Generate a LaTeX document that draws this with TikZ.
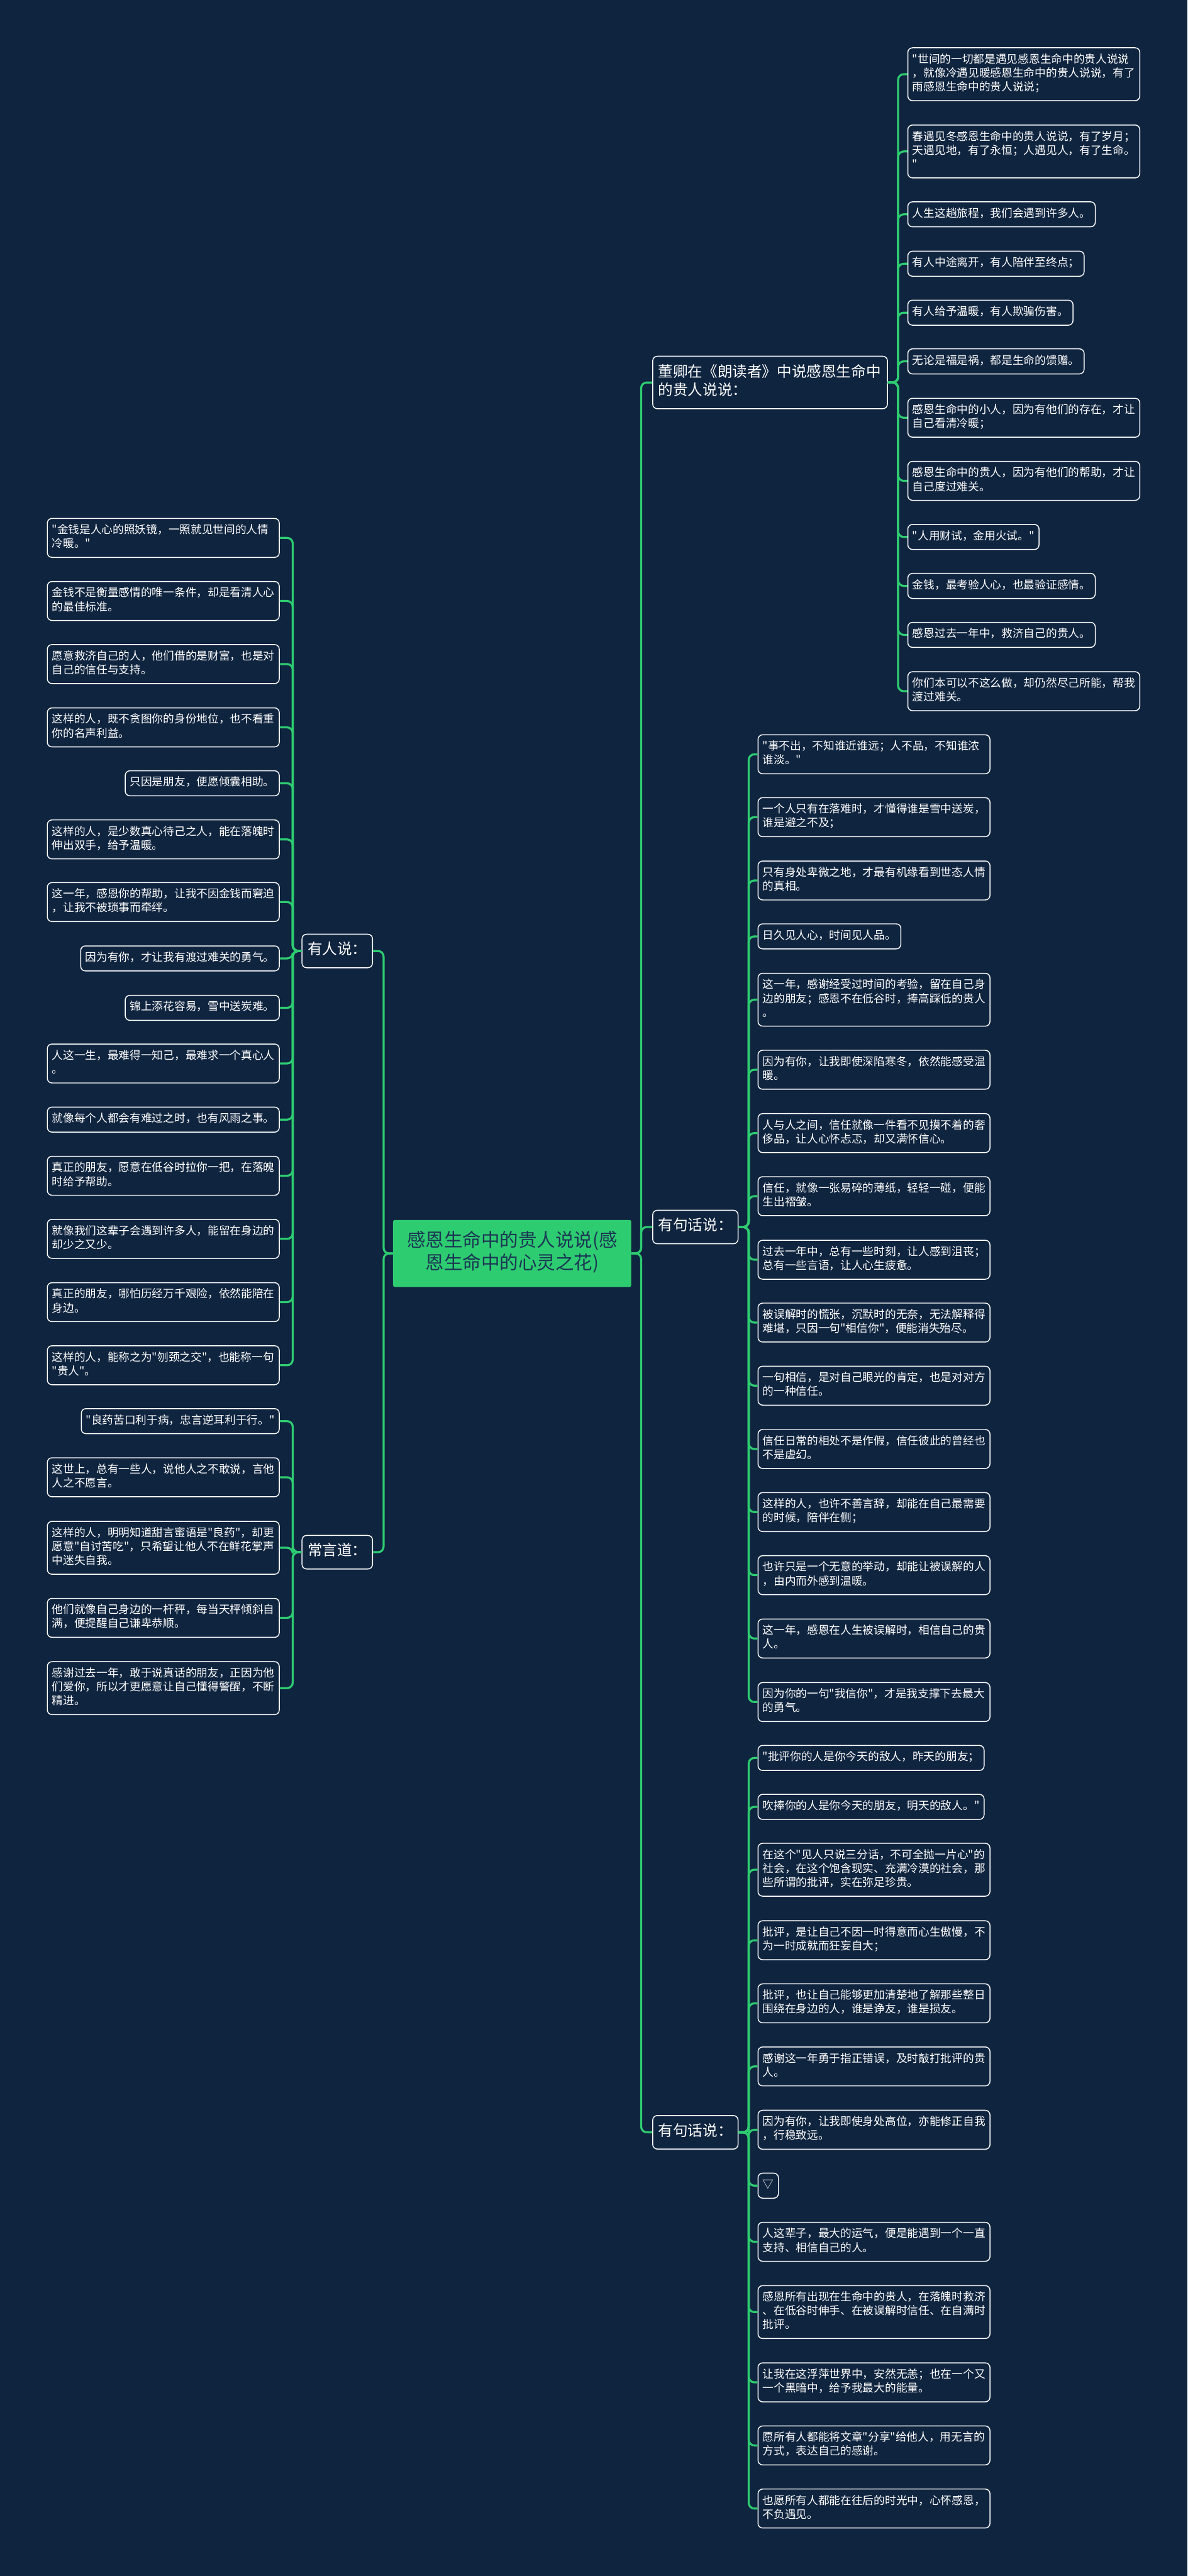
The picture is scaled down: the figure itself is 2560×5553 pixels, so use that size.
\documentclass[tikz,border=0pt]{standalone}
\usepackage{xcolor}
\usepackage{fontspec}
\setmainfont{Noto Sans CJK SC}[Ligatures=TeXOff]
\usetikzlibrary{positioning}
\definecolor{mindbg}{HTML}{0F243F}
\definecolor{mindgreen}{HTML}{2ECC71}
\definecolor{mindnavy}{HTML}{1A3553}

\begin{document}
\begin{tikzpicture}[x=0.5pt, y=-0.5pt,
  link/.style={draw=mindgreen, line width=2.2pt, rounded corners=6pt},
  leaf/.style={draw=white, line width=1pt, fill=mindbg, rounded corners=5pt, text=white,
    font=\fontsize{12}{15}\selectfont, inner xsep=5pt, inner ysep=6pt, align=left,
    execute at begin node=\strut, execute at end node=\strut},
  leafw/.style={leaf, text width=240pt},
  branch/.style={draw=white, line width=1pt, fill=mindbg, rounded corners=5pt, text=white,
    font=\fontsize{16}{19}\selectfont, inner xsep=6pt, inner ysep=8.5pt, align=left,
    execute at begin node=\strut, execute at end node=\strut},
  root/.style={fill=mindgreen, rounded corners=2pt, text=mindnavy,
    font=\fontsize{20}{24}\selectfont, inner xsep=15pt, inner ysep=12pt, align=center,
    execute at begin node=\strut, execute at end node=\strut}]
  \fill[mindbg] (0,0) rectangle (2560,5553);
  \useasboundingbox (0,0) rectangle (2560,5553);

  \node[root] (root) at (1104,2702) {感恩生命中的贵人说说(感\\恩生命中的心灵之花)};

  \node[branch, text width=241pt, anchor=west] (n1) at (1406,824.5) {董卿在《朗读者》中说感恩生命中\\的贵人说说：};
  \node[branch, anchor=west] (n2) at (1406,2645) {有句话说：};
  \node[branch, anchor=west] (n3) at (1406,4596.5) {有句话说：};
  \node[branch, anchor=east] (l1) at (804,2050) {有人说：};
  \node[branch, anchor=east] (l2) at (804,3346) {常言道：};

  \node[leafw, anchor=west] (a1) at (1956,160) {"世间的一切都是遇见感恩生命中的贵人说说\\，就像冷遇见暖感恩生命中的贵人说说，有了\\雨感恩生命中的贵人说说；};
  \node[leafw, anchor=west] (a2) at (1956,326.5) {春遇见冬感恩生命中的贵人说说，有了岁月；\\天遇见地，有了永恒；人遇见人，有了生命。\\"};
  \node[leaf, anchor=west] (a3) at (1956,462) {人生这趟旅程，我们会遇到许多人。};
  \node[leaf, anchor=west] (a4) at (1956,568.5) {有人中途离开，有人陪伴至终点；};
  \node[leaf, anchor=west] (a5) at (1956,674) {有人给予温暖，有人欺骗伤害。};
  \node[leaf, anchor=west] (a6) at (1956,779) {无论是福是祸，都是生命的馈赠。};
  \node[leafw, anchor=west] (a7) at (1956,900.5) {感恩生命中的小人，因为有他们的存在，才让\\自己看清冷暖；};
  \node[leafw, anchor=west] (a8) at (1956,1036.5) {感恩生命中的贵人，因为有他们的帮助，才让\\自己度过难关。};
  \node[leaf, anchor=west] (a9) at (1956,1157.5) {"人用财试，金用火试。"};
  \node[leaf, anchor=west] (a10) at (1956,1263) {金钱，最考验人心，也最验证感情。};
  \node[leaf, anchor=west] (a11) at (1956,1368.5) {感恩过去一年中，救济自己的贵人。};
  \node[leafw, anchor=west] (a12) at (1956,1490) {你们本可以不这么做，却仍然尽己所能，帮我\\渡过难关。};

  \node[leafw, anchor=west] (b1) at (1633,1626) {"事不出，不知谁近谁远；人不品，不知谁浓\\谁淡。"};
  \node[leafw, anchor=west] (b2) at (1633,1761.5) {一个人只有在落难时，才懂得谁是雪中送炭，\\谁是避之不及；};
  \node[leafw, anchor=west] (b3) at (1633,1898) {只有身处卑微之地，才最有机缘看到世态人情\\的真相。};
  \node[leaf, anchor=west] (b4) at (1633,2018.5) {日久见人心，时间见人品。};
  \node[leafw, anchor=west] (b5) at (1633,2155) {这一年，感谢经受过时间的考验，留在自己身\\边的朋友；感恩不在低谷时，捧高踩低的贵人\\。};
  \node[leafw, anchor=west] (b6) at (1633,2306) {因为有你，让我即使深陷寒冬，依然能感受温\\暖。};
  \node[leafw, anchor=west] (b7) at (1633,2442.5) {人与人之间，信任就像一件看不见摸不着的奢\\侈品，让人心怀忐忑，却又满怀信心。};
  \node[leafw, anchor=west] (b8) at (1633,2578.5) {信任，就像一张易碎的薄纸，轻轻一碰，便能\\生出褶皱。};
  \node[leafw, anchor=west] (b9) at (1633,2715.5) {过去一年中，总有一些时刻，让人感到沮丧；\\总有一些言语，让人心生疲惫。};
  \node[leafw, anchor=west] (b10) at (1633,2851) {被误解时的慌张，沉默时的无奈，无法解释得\\难堪，只因一句"相信你"，便能消失殆尽。};
  \node[leafw, anchor=west] (b11) at (1633,2987) {一句相信，是对自己眼光的肯定，也是对对方\\的一种信任。};
  \node[leafw, anchor=west] (b12) at (1633,3123.5) {信任日常的相处不是作假，信任彼此的曾经也\\不是虚幻。};
  \node[leafw, anchor=west] (b13) at (1633,3259.5) {这样的人，也许不善言辞，却能在自己最需要\\的时候，陪伴在侧；};
  \node[leafw, anchor=west] (b14) at (1633,3395.5) {也许只是一个无意的举动，却能让被误解的人\\，由内而外感到温暖。};
  \node[leafw, anchor=west] (b15) at (1633,3532) {这一年，感恩在人生被误解时，相信自己的贵\\人。};
  \node[leafw, anchor=west] (b16) at (1633,3669) {因为你的一句"我信你"，才是我支撑下去最大\\的勇气。};

  \node[leaf, anchor=west] (c1) at (1633,3789.5) {"批评你的人是你今天的敌人，昨天的朋友；};
  \node[leaf, anchor=west] (c2) at (1633,3895) {吹捧你的人是你今天的朋友，明天的敌人。"};
  \node[leafw, anchor=west] (c3) at (1633,4030.5) {在这个"见人只说三分话，不可全抛一片心"的\\社会，在这个饱含现实、充满冷漠的社会，那\\些所谓的批评，实在弥足珍贵。};
  \node[leafw, anchor=west] (c4) at (1633,4182.5) {批评，是让自己不因一时得意而心生傲慢，不\\为一时成就而狂妄自大；};
  \node[leafw, anchor=west] (c5) at (1633,4318.5) {批评，也让自己能够更加清楚地了解那些整日\\围绕在身边的人，谁是诤友，谁是损友。};
  \node[leafw, anchor=west] (c6) at (1633,4454.5) {感谢这一年勇于指正错误，及时敲打批评的贵\\人。};
  \node[leafw, anchor=west] (c7) at (1633,4591) {因为有你，让我即使身处高位，亦能修正自我\\，行稳致远。};
  \node[leaf, anchor=west] (c8) at (1633,4711.5) {▽};
  \node[leafw, anchor=west] (c9) at (1633,4832.5) {人这辈子，最大的运气，便是能遇到一个一直\\支持、相信自己的人。};
  \node[leafw, anchor=west] (c10) at (1633,4984) {感恩所有出现在生命中的贵人，在落魄时救济\\、在低谷时伸手、在被误解时信任、在自满时\\批评。};
  \node[leafw, anchor=west] (c11) at (1633,5135.5) {让我在这浮萍世界中，安然无恙；也在一个又\\一个黑暗中，给予我最大的能量。};
  \node[leafw, anchor=west] (c12) at (1633,5271.5) {愿所有人都能将文章"分享"给他人，用无言的\\方式，表达自己的感谢。};
  \node[leafw, anchor=west] (c13) at (1633,5407.5) {也愿所有人都能在往后的时光中，心怀感恩，\\不负遇见。};

  \node[leafw, anchor=east] (d1) at (603,1159.5) {"金钱是人心的照妖镜，一照就见世间的人情\\冷暖。"};
  \node[leafw, anchor=east] (d2) at (603,1295.5) {金钱不是衡量感情的唯一条件，却是看清人心\\的最佳标准。};
  \node[leafw, anchor=east] (d3) at (603,1431.5) {愿意救济自己的人，他们借的是财富，也是对\\自己的信任与支持。};
  \node[leafw, anchor=east] (d4) at (603,1568) {这样的人，既不贪图你的身份地位，也不看重\\你的名声利益。};
  \node[leaf, anchor=east] (d5) at (603,1688.5) {只因是朋友，便愿倾囊相助。};
  \node[leafw, anchor=east] (d6) at (603,1809.5) {这样的人，是少数真心待己之人，能在落魄时\\伸出双手，给予温暖。};
  \node[leafw, anchor=east] (d7) at (603,1944.5) {这一年，感恩你的帮助，让我不因金钱而窘迫\\，让我不被琐事而牵绊。};
  \node[leaf, anchor=east] (d8) at (603,2066) {因为有你，才让我有渡过难关的勇气。};
  \node[leaf, anchor=east] (d9) at (603,2172.5) {锦上添花容易，雪中送炭难。};
  \node[leafw, anchor=east] (d10) at (603,2292.5) {人这一生，最难得一知己，最难求一个真心人\\。};
  \node[leafw, anchor=east] (d11) at (603,2413.5) {就像每个人都会有难过之时，也有风雨之事。};
  \node[leafw, anchor=east] (d12) at (603,2534.5) {真正的朋友，愿意在低谷时拉你一把，在落魄\\时给予帮助。};
  \node[leafw, anchor=east] (d13) at (603,2670.5) {就像我们这辈子会遇到许多人，能留在身边的\\却少之又少。};
  \node[leafw, anchor=east] (d14) at (603,2807) {真正的朋友，哪怕历经万千艰险，依然能陪在\\身边。};
  \node[leafw, anchor=east] (d15) at (603,2943) {这样的人，能称之为"刎颈之交"，也能称一句\\"贵人"。};

  \node[leaf, anchor=east] (e1) at (603,3063.5) {"良药苦口利于病，忠言逆耳利于行。"};
  \node[leafw, anchor=east] (e2) at (603,3184.5) {这世上，总有一些人，说他人之不敢说，言他\\人之不愿言。};
  \node[leafw, anchor=east] (e3) at (603,3336.5) {这样的人，明明知道甜言蜜语是"良药"，却更\\愿意"自讨苦吃"，只希望让他人不在鲜花掌声\\中迷失自我。};
  \node[leafw, anchor=east] (e4) at (603,3487.5) {他们就像自己身边的一杆秤，每当天枰倾斜自\\满，便提醒自己谦卑恭顺。};
  \node[leafw, anchor=east] (e5) at (603,3639) {感谢过去一年，敢于说真话的朋友，正因为他\\们爱你，所以才更愿意让自己懂得警醒，不断\\精进。};

  \foreach \n in {n1,n2,n3}
    \draw[link] (root.east) -- ++(21,0) |- (\n.west);
  \foreach \n in {l1,l2}
    \draw[link] (root.west) -- ++(-20,0) |- (\n.east);
  \foreach \i in {1,...,12}
    \draw[link] (n1.east) -- ++(22,0) |- (a\i.west);
  \foreach \i in {1,...,16}
    \draw[link] (n2.east) -- ++(22,0) |- (b\i.west);
  \foreach \i in {1,...,13}
    \draw[link] (n3.east) -- ++(22,0) |- (c\i.west);
  \foreach \i in {1,...,15}
    \draw[link] (l1.west) -- ++(-19,0) |- (d\i.east);
  \foreach \i in {1,...,5}
    \draw[link] (l2.west) -- ++(-19,0) |- (e\i.east);
\end{tikzpicture}
\end{document}
